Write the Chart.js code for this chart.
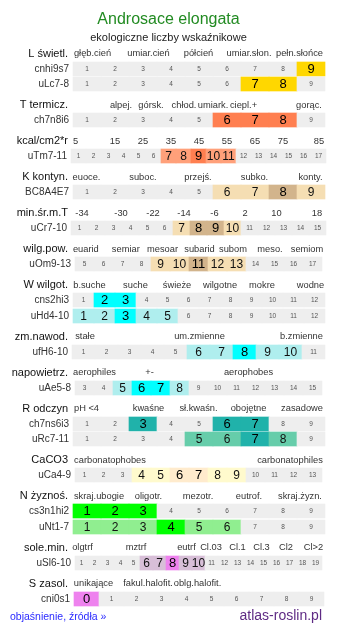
<!DOCTYPE html>
<html lang="pl">
<head>
<meta charset="utf-8">
<title>Androsace elongata – ekologiczne liczby wskaźnikowe</title>
<script src="https://cdn.jsdelivr.net/npm/chart.js@4.4.0/dist/chart.umd.min.js"></script>
<style>
  html, body { margin: 0; padding: 0; background: #fff; }
  canvas { display: block; }
</style>
</head>
<body>
<canvas id="ecoChart" width="337" height="634"></canvas>
<script>
// ---- dane ----
const plantName = 'Androsace elongata';
const subtitle = 'ekologiczne liczby wskaźnikowe';
const footerLink = 'objaśnienie, źródła »';
const footerSite = 'atlas-roslin.pl';

const groupTitles = ['L świetl.', 'T termicz.', 'kcal/cm2*r', 'K kontyn.', 'min.śr.m.T', 'wilg.pow.',
  'W wilgot.', 'zm.nawod.', 'napowietrz.', 'R odczyn', 'CaCO3', 'N żyznoś.', 'sole.min.', 'S zasol.'];

// opisy nad wierszami (etykiety skali)
const groupWords = [
  ['głęb.cień', 'umiar.cień', 'półcień', 'umiar.słon.', 'pełn.słońce'],
  ['alpej.', 'górsk.', 'chłod.', 'umiark.', 'ciepl.+', 'gorąc.'],
  ['5', '15', '25', '35', '45', '55', '65', '75', '85'],
  ['euoce.', 'suboc.', 'przejś.', 'subko.', 'konty.'],
  ['-34', '-30', '-22', '-14', '-6', '2', '10', '18'],
  ['euarid', 'semiar', 'mesoar', 'subarid', 'subom', 'meso.', 'semiom'],
  ['b.suche', 'suche', 'świeże', 'wilgotne', 'mokre', 'wodne'],
  ['stałe', 'um.zmienne', 'b.zmienne'],
  ['aerophiles', '+-', 'aerophobes'],
  ['pH <4', 'kwaśne', 'sł.kwaśn.', 'obojętne', 'zasadowe'],
  ['carbonatophobes', 'carbonatophiles'],
  ['skraj.ubogie', 'oligotr.', 'mezotr.', 'eutrof.', 'skraj.żyzn.'],
  ['olgtrf', 'mztrf', 'eutrf', 'Cl.03', 'Cl.1', 'Cl.3', 'Cl2', 'Cl>2'],
  ['unikające', 'fakul.halofit.', 'oblg.halofit.']
];

// skale komórek
const cells1to9 = [1, 2, 3, 4, 5, 6, 7, 8, 9];
const cells0to9 = [0, 1, 2, 3, 4, 5, 6, 7, 8, 9];
const cells1to11 = [1, 2, 3, 4, 5, 6, 7, 8, 9, 10, 11];
const cells1to12 = [1, 2, 3, 4, 5, 6, 7, 8, 9, 10, 11, 12];
const cells1to13 = [1, 2, 3, 4, 5, 6, 7, 8, 9, 10, 11, 12, 13];
const cells3to15 = [3, 4, 5, 6, 7, 8, 9, 10, 11, 12, 13, 14, 15];
const cells5to17 = [5, 6, 7, 8, 9, 10, 11, 12, 13, 14, 15, 16, 17];
const cells1to15 = [1, 2, 3, 4, 5, 6, 7, 8, 9, 10, 11, 12, 13, 14, 15];
const cells1to17 = [1, 2, 3, 4, 5, 6, 7, 8, 9, 10, 11, 12, 13, 14, 15, 16, 17];
const cells1to19 = [1, 2, 3, 4, 5, 6, 7, 8, 9, 10, 11, 12, 13, 14, 15, 16, 17, 18, 19];

const rowCodes = ['cnhi9s7', 'uLc7-8', 'ch7n8i6', 'uTm7-11', 'BC8A4E7', 'uCr7-10', 'uOm9-13',
  'cns2hi3', 'uHd4-10', 'ufH6-10', 'uAe5-8', 'ch7ns6i3', 'uRc7-11', 'uCa4-9',
  'cs3n1hi2', 'uNt1-7', 'uSl6-10', 'cni0s1'];
const rowGroup = [0, 0, 1, 2, 3, 4, 5, 6, 6, 7, 8, 9, 9, 10, 11, 11, 12, 13];
const rowCells = [cells1to9, cells1to9, cells1to9, cells1to17, cells1to9, cells1to15, cells5to17,
  cells1to12, cells1to12, cells1to11, cells3to15, cells1to9, cells1to9, cells1to13,
  cells1to9, cells1to9, cells1to19, cells0to9];
// wartości główne (ciemniejszy kolor) i dodatkowe (jaśniejszy)
const rowStrong = [[9], [7, 8], [6, 7, 8], [9], [8], [8, 9], [11], [2, 3], [3], [8], [6, 7],
  [3, 6, 7], [7], [6, 7], [1, 2, 3], [4], [8], [0]];
const rowWeak = [[], [], [], [7, 8, 10, 11], [6, 7, 9], [7, 10], [9, 10, 12, 13], [], [1, 2, 4, 5],
  [6, 7, 9, 10], [5, 8], [], [5, 6, 8], [4, 5, 8, 9], [], [1, 2, 3, 5, 6], [6, 7, 9, 10], []];

// ---- wygląd / układ ----
const FONT = '"Liberation Sans", Arial, sans-serif';
const GRAY = '#eeeeee';
const groupColours = [
  ['#ffd700', '#ffd700'],
  ['#ff7f50', '#ffa07a'],
  ['#ff7f50', '#ffa07a'],
  ['#d2b48c', '#f5deb3'],
  ['#d2b48c', '#f5deb3'],
  ['#d2b48c', '#f5deb3'],
  ['#00ffff', '#afeeee'],
  ['#00ffff', '#afeeee'],
  ['#00ffff', '#afeeee'],
  ['#20b2aa', '#66cdaa'],
  ['#ffebcd', '#fffacd'],
  ['#00ff00', '#90ee90'],
  ['#ee82ee', '#d8bfd8'],
  ['#ee82ee', '#d8bfd8']
];
// środki opisów w jednostkach szerokości tabeli (0..252)
const wordCentres = [
  [19.5, 75.5, 125.5, 176, 226.5],
  [48, 78, 111, 140, 170.5, 236],
  [2.5, 42, 70, 98, 126, 154, 182, 210, 246],
  [13.5, 70, 125, 181.5, 237.5],
  [9, 48, 80, 111, 141.5, 172, 203.5, 244],
  [12.8, 52.8, 89.5, 126.5, 160, 197, 234],
  [16.5, 62.5, 104, 147, 189, 237.5],
  [12, 126.5, 228.5],
  [21.5, 76.5, 175.5],
  [13.5, 75.5, 125.5, 175.5, 229],
  [37, 217],
  [26, 75.5, 125, 176, 227],
  [9.5, 63, 113.5, 138, 164.5, 188.5, 213, 240.5],
  [20.5, 75, 124.5]
];

const W = 337, H = 634;
const TABLE_LEFT = 73, TABLE_W = 252;
const TITLE_Y = 20, SUB_Y = 38;
const FIRST_HEAD_Y = 53.5, HEAD_TO_ROW = 15, ROW_STEP = 15.5, ROW_TO_HEAD = 21;
const BAR_H = 14;

// pozycje pionowe linii
const headY = [], rowY = [];
let yy = FIRST_HEAD_Y;
groupTitles.forEach((t, g) => {
  headY[g] = yy;
  let first = true;
  rowGroup.forEach((rg, r) => {
    if (rg !== g) return;
    yy += first ? HEAD_TO_ROW : ROW_STEP;
    first = false;
    rowY[r] = Math.round(yy);
  });
  yy += ROW_TO_HEAD;
});
const FOOTER_Y = yy - 2;

function rowGeom(n) {
  const w = Math.round(TABLE_W / n);
  return { w: w, off: Math.floor((TABLE_W - n * w) / 2) };
}

// komórki -> słupki pływające
const bars = [], barColours = [], cellText = [];
rowCells.forEach((cells, r) => {
  const g = rowGeom(cells.length);
  const cols = groupColours[rowGroup[r]];
  cells.forEach((v, i) => {
    let col = GRAY, kind = 0;
    if (rowStrong[r].includes(v)) { col = cols[0]; kind = 2; }
    else if (rowWeak[r].includes(v)) { col = cols[1]; kind = 1; }
    bars.push({ x: [g.off + i * g.w, g.off + (i + 1) * g.w], y: rowY[r] });
    barColours.push(col);
    cellText.push({ label: String(v), kind: kind });
  });
});

const textPlugin = {
  id: 'ecoText',
  afterDatasetsDraw(chart) {
    const c = chart.ctx;
    const sx = chart.scales.x, sy = chart.scales.y;
    const left = sx.getPixelForValue(0);
    c.save();
    c.textBaseline = 'middle';

    // tytuł
    c.textAlign = 'center';
    c.fillStyle = '#228b22';
    c.font = '16px ' + FONT;
    c.fillText(plantName, W / 2, sy.getPixelForValue(TITLE_Y));
    c.fillStyle = '#222';
    c.font = '11px ' + FONT;
    c.fillText(subtitle, W / 2, sy.getPixelForValue(SUB_Y));

    // nagłówki grup
    groupTitles.forEach((t, g) => {
      const y = sy.getPixelForValue(headY[g]);
      c.textAlign = 'right';
      c.fillStyle = '#111';
      c.font = '11px ' + FONT;
      c.fillText(t, left - 5, y);
      c.textAlign = 'center';
      c.fillStyle = '#333';
      c.font = '9.3px ' + FONT;
      groupWords[g].forEach((wd, k) => {
        c.fillText(wd, sx.getPixelForValue(wordCentres[g][k]), y);
      });
    });

    // kody wierszy
    c.fillStyle = '#333';
    c.font = '10px ' + FONT;
    c.textAlign = 'right';
    rowCodes.forEach((code, r) => {
      const g = rowGeom(rowCells[r].length);
      c.fillText(code, sx.getPixelForValue(g.off) - 4, sy.getPixelForValue(rowY[r]));
    });

    // liczby w komórkach
    c.textAlign = 'center';
    const meta = chart.getDatasetMeta(0);
    meta.data.forEach((el, i) => {
      const t = cellText[i];
      const p = el.getProps(['x', 'y', 'base'], true);
      const cx = (p.x + p.base) / 2;
      if (t.kind === 2) { c.font = '13px ' + FONT; c.fillStyle = '#000'; }
      else if (t.kind === 1) { c.font = '12px ' + FONT; c.fillStyle = '#111'; }
      else { c.font = '6.5px ' + FONT; c.fillStyle = '#555'; }
      c.fillText(t.label, cx, p.y + 0.5);
    });

    // stopka
    c.textAlign = 'left';
    c.fillStyle = '#2a2aff';
    c.font = '10.5px ' + FONT;
    c.fillText(footerLink, 10, sy.getPixelForValue(FOOTER_Y));
    c.textAlign = 'right';
    c.fillStyle = '#5e2a84';
    c.font = '14px ' + FONT;
    c.fillText(footerSite, 322, sy.getPixelForValue(FOOTER_Y - 1));
    c.restore();
  }
};

new Chart(document.getElementById('ecoChart').getContext('2d'), {
  type: 'bar',
  data: {
    datasets: [{
      data: bars,
      backgroundColor: barColours,
      borderWidth: 0,
      barThickness: BAR_H,
      grouped: false,
      clip: false
    }]
  },
  options: {
    indexAxis: 'y',
    responsive: false,
    animation: false,
    devicePixelRatio: 1,
    layout: { padding: { left: TABLE_LEFT, right: W - TABLE_LEFT - TABLE_W, top: 0, bottom: 0 } },
    scales: {
      x: { type: 'linear', min: 0, max: TABLE_W, offset: false, display: false },
      y: { type: 'linear', min: 0, max: H, reverse: true, offset: false, display: false }
    },
    plugins: { legend: { display: false }, tooltip: { enabled: false } }
  },
  plugins: [textPlugin]
});
</script>
</body>
</html>
